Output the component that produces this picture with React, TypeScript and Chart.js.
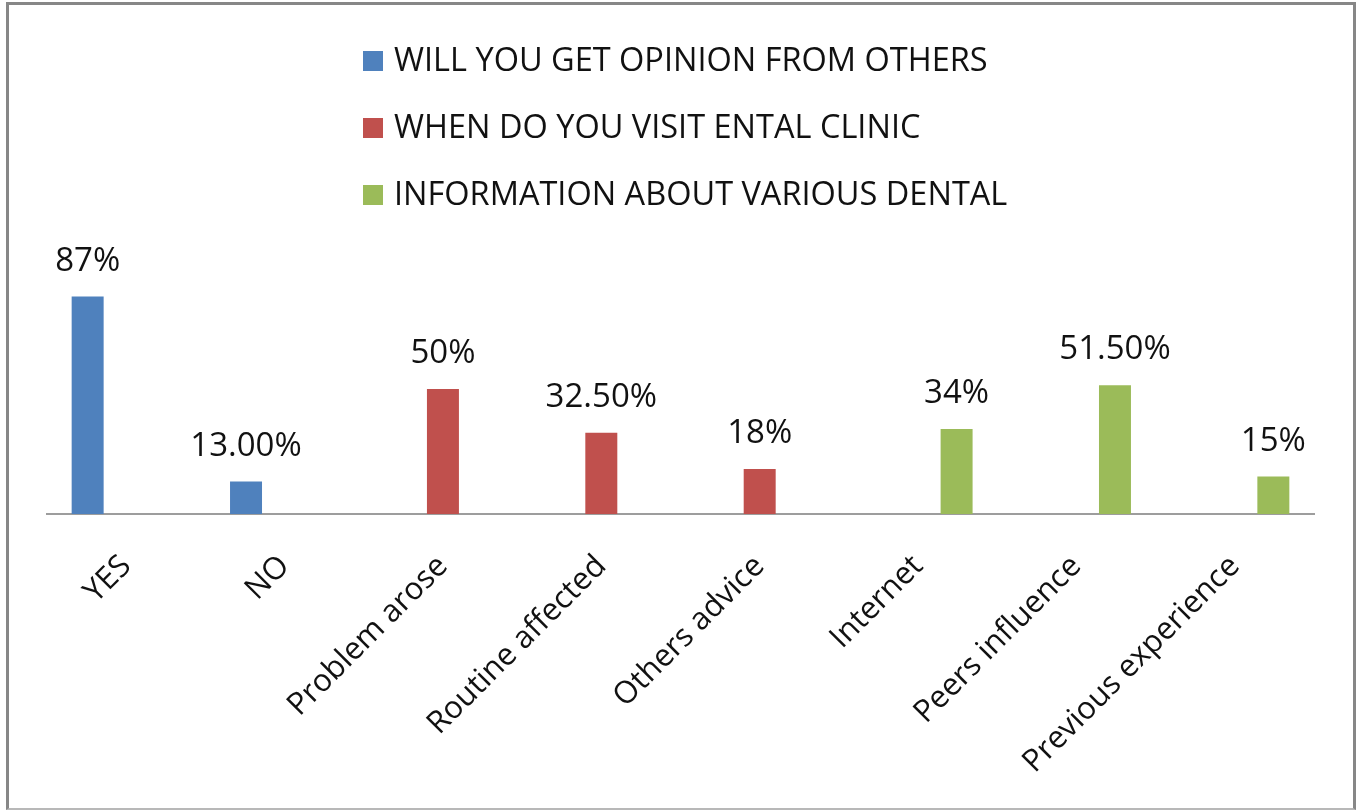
import React, { useEffect, useRef } from "react";
import { Chart, registerables } from "chart.js";

Chart.register(...registerables);

const categories = [
  "YES",
  "NO",
  "Problem arose",
  "Routine affected",
  "Others advice",
  "Internet",
  "Peers influence",
  "Previous experience",
];

const seriesNames = [
  "WILL YOU GET OPINION FROM OTHERS",
  "WHEN DO YOU VISIT ENTAL CLINIC",
  "INFORMATION ABOUT VARIOUS DENTAL",
];

const opinionValues = [87, 13, null, null, null, null, null, null];
const visitValues = [null, null, 50, 32.5, 18, null, null, null];
const infoValues = [null, null, null, null, null, 34, 51.5, 15];

const valueLabels = ["87%", "13.00%", "50%", "32.50%", "18%", "34%", "51.50%", "15%"];

const seriesColors = ["#4F81BD", "#C0504D", "#9BBB59"];

const FONT = "'Open Sans', 'DejaVu Sans', sans-serif";

const valueLabelPlugin = {
  id: "valueLabels",
  afterDatasetsDraw(chart: any) {
    const ctx = chart.ctx;
    ctx.save();
    ctx.font = `33px ${FONT}`;
    ctx.fillStyle = "#111";
    ctx.textAlign = "center";
    ctx.textBaseline = "alphabetic";
    chart.data.datasets.forEach((ds: any, di: number) => {
      const meta = chart.getDatasetMeta(di);
      meta.data.forEach((el: any, i: number) => {
        const v = ds.data[i];
        if (v === null || v === undefined) return;
        ctx.fillText(valueLabels[i], el.x, el.y - 26);
      });
    });
    ctx.restore();
  },
};

const stackedLegendPlugin = {
  id: "stackedLegend",
  afterDraw(chart: any) {
    const ctx = chart.ctx;
    const opts = chart.options.plugins.stackedLegend;
    ctx.save();
    ctx.font = `32.5px ${FONT}`;
    ctx.textBaseline = "middle";
    ctx.textAlign = "left";
    chart.data.datasets.forEach((ds: any, i: number) => {
      const cy = opts.firstRowY + i * opts.rowGap;
      ctx.fillStyle = ds.backgroundColor;
      ctx.fillRect(opts.x, cy - opts.box / 2, opts.box, opts.box);
      ctx.fillStyle = "#111";
      ctx.fillText(ds.label, opts.x + opts.box + 11, cy + 1);
    });
    ctx.restore();
  },
};

export default function App() {
  const ref = useRef<HTMLCanvasElement | null>(null);

  useEffect(() => {
    if (!ref.current) return;
    const chart = new Chart(ref.current, {
      type: "bar",
      data: {
        labels: categories,
        datasets: [
          { label: seriesNames[0], data: opinionValues, backgroundColor: seriesColors[0] },
          { label: seriesNames[1], data: visitValues, backgroundColor: seriesColors[1] },
          { label: seriesNames[2], data: infoValues, backgroundColor: seriesColors[2] },
        ] as any,
      },
      options: {
        responsive: false,
        animation: false,
        devicePixelRatio: 1,
        datasets: {
          bar: { barPercentage: 0.83, categoryPercentage: 0.73 },
        },
        layout: { padding: { left: 47, right: 47, top: 264, bottom: 0 } },
        scales: {
          x: {
            grid: { display: false, drawTicks: false },
            border: { display: true, color: "#9d9d9d", width: 2 },
            ticks: {
              autoSkip: false,
              maxRotation: 45,
              minRotation: 45,
              padding: 34,
              color: "#111",
              font: { family: FONT, size: 31 },
            },
            afterFit: (s: any) => {
              s.height = 297;
              s.paddingLeft = 0;
              s.paddingRight = 0;
            },
          },
          y: { display: false, min: 0, max: 100 },
        },
        plugins: {
          legend: { display: false },
          tooltip: { enabled: false },
          stackedLegend: { x: 363, firstRowY: 61, rowGap: 67, box: 20 },
        } as any,
      },
      plugins: [valueLabelPlugin, stackedLegendPlugin],
    });
    return () => chart.destroy();
  }, []);

  return (
    <div style={{ position: "absolute", left: 0, top: 0, width: 1361, height: 811, background: "#fff" }}>
      <canvas
        ref={ref}
        width={1361}
        height={811}
        style={{ position: "absolute", left: 0, top: 0, width: 1361, height: 811 }}
      />
      <div
        style={{
          position: "absolute",
          left: 6,
          top: 2,
          width: 1350,
          height: 808,
          boxSizing: "border-box",
          borderTop: "3px solid #878787",
          borderLeft: "3px solid #878787",
          borderRight: "3px solid #878787",
          borderBottom: "2px solid #b8b8b8",
          pointerEvents: "none",
        }}
      />
    </div>
  );
}
